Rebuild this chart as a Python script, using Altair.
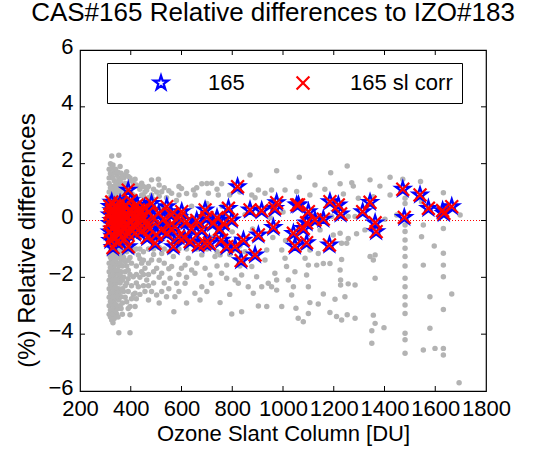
import altair as alt
import pandas as pd

# ---------------- data ----------------
x_ticks = [200, 400, 600, 800, 1000, 1200, 1400, 1600, 1800]
y_ticks = [-6, -4, -2, 0, 2, 4, 6]
inner_x_ticks = [400, 600, 800, 1000, 1200, 1400, 1600]
inner_y_ticks = [-4, -2, 0, 2, 4]

# grey points (all comparisons)
grey_x = [
    315, 315, 315, 315, 315, 315, 315, 315, 315, 315, 315, 315, 315, 315, 315, 315, 315, 315, 315,
    325, 325, 325, 325, 325, 325, 325, 325, 325, 325, 325, 325, 325, 325, 325, 325, 325,
    335, 335, 335, 335, 335, 335, 335, 335, 335, 335, 335, 335, 335, 335,
    345, 345, 345, 345, 345, 345, 345, 345, 345, 345, 345,
    353, 353, 353, 353, 353, 353, 353, 353, 353,
    362, 362, 362, 362, 362, 362, 362, 362,
    372, 372, 372, 372, 372,
    384, 384, 384, 384, 384, 384,
    397, 397, 397, 397, 397, 397, 397,
    410, 410, 410, 410, 410,
    417, 417, 417,
    430, 430, 430,
    443, 443, 443, 443,
    456, 456, 456,
    463, 463,
    482, 482, 482, 482,
    502, 502, 502,
    509,
    522, 522, 522, 522,
    541, 541, 555, 561, 561, 568, 574, 581, 570,
    600, 600, 614, 614, 627, 640, 647, 653, 653, 653, 673,
    680, 680, 680, 693, 706, 712, 719, 719, 732, 745, 752, 752, 758, 758,
    778, 778, 798, 804, 811, 824, 837, 837, 850, 863, 870, 877, 877, 883,
    896, 903, 903, 916, 929, 929, 936, 936, 942, 955, 955, 968, 975, 975, 975,
    995, 995, 1008, 1008, 1014, 1021,
    460, 520, 580, 640, 700, 760, 850, 950, 1000, 480, 560, 640, 720, 800, 880, 960, 1010,
    1253, 1188, 1064, 1126, 1225, 1271, 1277, 1343, 1382, 1422, 1472, 1542, 1632,
    1054, 1106, 1165, 1238, 1297, 1356, 1422, 1481, 1546, 1579, 1698,
    1192, 1257, 1284, 1402, 1448,
    1481, 1481, 1481, 1481, 1481, 1481, 1481, 1481, 1481, 1481, 1481, 1481, 1481, 1481, 1481,
    1553, 1546, 1553, 1579, 1579, 1553, 1596, 1599,
    1632, 1632, 1632, 1632, 1632, 1632, 1632, 1665, 1694,
    1363, 1356, 1363, 1356, 1363, 1350, 1350, 1398,
    1323, 1290, 1257, 1284, 1257, 1244, 1227, 1227, 1231, 1231, 1205, 1185, 1211, 1231, 1253, 1284,
    1159, 1139, 1106, 1100, 1080, 1060, 1051, 1041, 1047, 1034, 1100, 1093, 1100, 1087, 1133,
    1159, 1185, 1225, 1139, 1106, 1225, 1198, 1146, 1343, 1251,
    320, 320, 320, 320, 320, 320, 320, 320, 320, 320, 320, 320, 320, 320,
    330, 330, 330, 330, 330, 330, 330, 330, 330, 330, 330, 330, 330, 330,
    340, 340, 340, 340, 340, 340, 340, 340, 340, 340, 340, 340,
    350, 350, 350, 350, 350, 350, 350, 350, 350, 350,
    358, 358, 358, 358, 358, 358, 358, 358, 358,
    367, 367, 367, 367, 367, 367, 367, 367, 367,
    378, 378, 378, 378, 378, 378, 378, 378,
    390, 390, 390, 390, 390, 390, 390, 390,
    403, 403, 403, 403, 403, 403,
    422, 422, 422, 422, 422, 422, 422,
    436, 436, 436, 436, 436,
    450, 450, 450, 450, 450, 450,
    470, 470, 470, 470, 470, 470, 470,
    490, 490, 490, 490, 490, 490,
    512, 512, 512, 512, 512, 512,
    532, 532, 532, 532,
    550, 550, 550, 550,
    590, 590, 590, 590, 590,
    620, 620, 620, 620,
    660, 660, 660,
    700, 700, 700,
    740, 740, 740,
    790, 790, 790,
    830, 830, 830,
    890, 890,
]
grey_y = [
    1.8, 1.5, 1.3, 1.0, 0.8, 0.6, 0.3, 0.0, -0.3, -0.6, -0.9, -1.2, -1.5, -1.8, -2.1, -2.4, -2.7, -3.0, -3.3,
    2.27, 1.84, 1.6, 1.2, 0.9, 0.5, -0.2, -0.7, -1.1, -1.4, -1.7, -2.0, -2.3, -2.6, -2.9, -3.2, -3.5,
    1.7, 1.4, 1.1, 0.8, -0.5, -1.0, -1.3, -1.6, -1.9, -2.2, -2.5, -2.8, -3.1, -3.45,
    1.6, 1.35, 1.0, -1.05, -1.5, -1.85, -2.2, -2.45, -2.75, -3.0, -3.3,
    2.3, 1.5, 1.2, -1.2, -1.6, -2.0, -2.4, -2.8, -3.95,
    1.66, 1.3, 0.9, -1.0, -1.4, -1.8, -2.68, -3.1,
    1.5, 1.1, -1.3, -2.0, -2.5,
    1.72, 1.2, -1.1, -1.6, -2.2, -2.86,
    1.5, 1.0, -1.3, -1.9, -3.03, -3.32, -3.95,
    1.3, 0.9, -1.1, -1.98, -2.6,
    1.45, -2.56, -3.03,
    1.2, -1.21, -2.33,
    1.31, 0.9, -1.5, -1.8,
    1.0, -1.68, -2.5,
    1.07, -2.09,
    1.43, 0.9, -1.39, -2.5,
    1.0, -1.68, -2.62,
    1.45,
    1.01, -1.16, -1.86, -2.5,
    0.8, -2.68, -2.03, 0.96, -1.62, -1.27, -2.68, -2.21, -3.21,
    1.13, -1.68, -1.57, -2.21, -1.33, -1.74, 1.07, 0.9, -1.86, -2.56, -2.8,
    1.29, -1.21, -2.33, -1.68, 0.96, -1.92, 1.31, -2.21, -1.27, 0.9, -1.21, -2.89, 1.29, -1.86,
    -1.57, -2.03, -3.29, -1.04, -2.09, -2.21, -1.92, -3.21, -1.1, -2.33, 1.6, 0.9, -1.62, -2.56,
    -1.98, 1.07, -3.01, -2.33, 0.96, -1.39, -1.04, -3.03, -2.21, 1.07, -2.33, -1.86, 1.75, -2.09, -2.45,
    -1.04, -3.03, 1.07, -1.33, -1.62, -2.09,
    0.6, 0.5, 0.7, 0.5, 0.6, 0.5, 0.2, 0.1, 0.3, -0.6, -0.5, -0.7, -0.6, -0.4, -0.3, -0.6, -0.7,
    1.92, 1.68, 1.52, 1.25, 1.29, 1.33, 1.21, 1.43, 1.21, 1.52, 1.45, 1.37, 0.98,
    1.02, 0.9, 1.1, 0.93, 0.78, 0.84, 0.9, 0.78, 0.66, 0.49, 0.19,
    0.14, 0.14, 0.14, 0.04, 0.19,
    -0.16, -0.39, -0.69, -0.98, -1.27, -1.6, -2.03, -2.33, -2.68, -2.97, -3.27, -3.97, -4.2, -4.67, 0.6,
    -0.16, -0.57, -1.57, -2.68, -3.79, -4.56, -0.9, -4.5,
    -0.28, -1.15, -1.57, -1.98, -3.13, -4.5, -4.73, -2.59, -5.71,
    -1.21, -1.39, -2.03, -3.33, -3.62, -3.88, -4.32, -3.77,
    -0.33, -0.47, -0.63, -2.27, -2.23, -2.68, -2.09, -2.27, -1.37, -0.8, -2.77, -3.24, -3.38, -3.5, -3.32, -3.44,
    -2.59, -2.94, -2.89, -3.27, -3.56, -3.44, -3.09, -2.33, -1.8, -2.62, -2.33, -1.92, -1.57, -1.33, -1.57,
    -1.51, -1.51, -1.74, -1.16, -1.04, -0.45, -0.51, -0.33, -1.27, -0.8,
    2.0, 1.65, 1.15, 0.7, -0.45, -0.8, -1.3, -1.65, -1.95, -2.25, -2.55, -2.85, -3.15, -3.4,
    1.95, 1.5, 1.0, 0.6, -0.9, -1.2, -1.5, -1.8, -2.1, -2.4, -2.7, -3.0, -3.3, -3.6,
    1.8, 1.25, 0.9, -0.8, -1.15, -1.4, -1.75, -2.05, -2.35, -2.65, -2.95, -3.2,
    1.7, 1.1, 0.8, -0.95, -1.3, -1.75, -2.1, -2.6, -3.1, -3.4,
    1.9, 1.4, 1.0, -1.1, -1.5, -1.9, -2.2, -2.5, -3.0,
    1.55, 1.2, -0.95, -1.25, -1.6, -2.1, -2.4, -2.9, -3.3,
    1.6, 1.3, 0.95, -1.0, -1.45, -1.8, -2.3, -2.7,
    1.55, 1.1, -1.0, -1.4, -1.75, -2.05, -2.5, -3.1,
    1.4, 0.95, -1.0, -1.5, -2.3, -2.75,
    1.25, 0.8, -1.0, -1.6, -1.9, -2.2, -2.75,
    1.1, -1.0, -1.35, -2.0, -2.6,
    1.2, 0.85, -1.1, -1.4, -1.9, -2.3,
    1.2, 0.8, -1.0, -1.5, -1.9, -2.3, -2.8,
    1.1, 0.75, -1.0, -1.2, -1.8, -2.2,
    1.25, 0.85, -0.95, -1.4, -2.0, -2.9,
    1.15, -1.0, -1.5, -2.2,
    1.05, -1.1, -1.7, -2.4,
    1.2, 0.9, -1.0, -1.9, -2.5,
    0.95, -1.0, -2.0, -2.9,
    1.15, -1.0, -1.5,
    1.3, -1.0, -2.5,
    1.1, -1.1, -1.6,
    0.9, -1.2, -2.6,
    1.0, -0.9, -1.6,
    0.8, -1.2,
]

# CAS#165 points (stars) and stray-light corrected points (crosses)
s165_x = [
    318, 318, 318, 318, 320, 325, 325, 325, 327, 328, 330, 335, 335, 337, 338,
    342, 344, 345, 345, 350, 352, 352, 355, 358, 360, 362, 365, 368, 370, 372,
    375, 380, 382, 385, 388, 390, 392, 395, 398, 400, 405, 408, 412, 415, 420,
    425, 428, 435, 440, 445, 450, 455, 460, 465, 470, 475, 490, 500, 510, 530,
    550, 560, 590, 610, 640, 660, 700, 710, 740, 750, 765,
    390, 417, 430, 443, 469, 482, 496, 522, 542, 542, 568, 575, 588, 601, 620,
    634, 666, 680, 693, 693, 725, 758, 778, 785, 798, 811, 821, 835, 844, 870,
    890, 903, 916, 962, 968, 975,
    1041, 1047, 1054, 1061, 1080, 1093, 1093, 1100, 1126, 1159, 1183, 1185, 1218, 1227,
    1314, 1343, 1363, 1367, 1472, 1478, 1540, 1573, 1629, 1634, 1665,
]
s165_y = [
    0.5, 0.2, -0.1, -0.4, -0.7, 0.65, 0.35, 0.0, -0.3, -0.55, -0.95, 0.5, 0.15, -0.2, -0.6,
    0.3, -0.05, -0.35, -0.75, 0.45, 0.1, -0.25, -0.5, 0.6, 0.25, -0.1, -0.4, 0.4, 0.05, -0.25,
    -0.65, 0.55, 0.2, -0.15, -0.45, 1.07, 0.35, 0.0, -0.3, 0.7, 0.25, -0.15, 0.45, 0.05, -0.25,
    0.55, 0.15, -0.1, 0.35, -0.35, 0.1, 0.45, -0.05, -0.6, 0.3, -0.3, 0.1, -0.5, 0.25, 0.05,
    -0.2, 0.2, 0.1, -0.6, -0.3, 0.0, 0.1, -0.8, 0.1, -0.3, -0.1,
    -0.92, -0.45, 0.37, 0.14, -0.22, 0.6, -0.8, -0.33, 0.49, -0.45, -0.92, -0.22, -0.57, 0.31, -0.04,
    -0.74, -0.86, -0.33, 0.37, -0.8, -0.1, -0.69, -0.92, 0.43, 0.02, -0.92, 1.19, -1.41, -0.69, 0.37,
    -1.21, -0.51, 0.35, -0.24, 0.43, 0.63,
    -0.45, -0.9, 0.55, 0.55, -0.28, -0.08, -0.78, 0.31, 0.02, 0.05, -0.86, 0.66, 0.55, 0.23,
    0.31, 0.64, -0.08, -0.39, 1.1, 0.11, 0.9, 0.43, 0.35, 0.25, 0.49,
]
# the stray-light corrected values sit on top of the uncorrected ones
corr_x = list(s165_x)
corr_y = list(s165_y)

series_names = ["165", "165 sl corr"]

# ---------------- frames ----------------
grey_df = pd.DataFrame({"x": grey_x, "y": grey_y})
pts_df = pd.DataFrame({
    "x": s165_x + corr_x,
    "y": s165_y + corr_y,
    "series": [series_names[0]] * len(s165_x) + [series_names[1]] * len(corr_x),
})
xt_df = pd.DataFrame({"x": inner_x_ticks})
yt_df = pd.DataFrame({"y": inner_y_ticks})
zero_df = pd.DataFrame({"y": [0]})

FONT = "Liberation Sans"
W, H = 406, 341

STAR = ("M0,-1L0.2245,-0.309L0.9511,-0.309L0.3633,0.118L0.5878,0.809L0,0.382"
        "L-0.5878,0.809L-0.3633,0.118L-0.9511,-0.309L-0.2245,-0.309Z")
XMARK = "M-1,-1L1,1M-1,1L1,-1"

xscale = alt.Scale(domain=[200, 1800], nice=False, zero=False)
yscale = alt.Scale(domain=[-6, 6], nice=False, zero=False)

xaxis = alt.Axis(values=x_ticks, ticks=False, domain=False, grid=False, format="d",
                 labelFontSize=22, labelPadding=7, labelFlush=False, labelOverlap=False,
                 labelBound=False, labelColor="black", labelFont=FONT,
                 title="Ozone Slant Column [DU]", titleFontSize=22, titleFont=FONT,
                 titleFontWeight="normal", titleColor="black", titlePadding=4)
yaxis = alt.Axis(values=y_ticks, ticks=False, domain=False, grid=False, format="d",
                 labelFontSize=22, labelPadding=7, labelFlush=False, labelOverlap=False,
                 labelOffset=-4,
                 labelColor="black", labelFont=FONT,
                 title="(%) Relative differences", titleFontSize=24, titleFont=FONT,
                 titleFontWeight="normal", titleColor="black",
                 titleX=-46, titleY=190, titleBaseline="alphabetic", titleAngle=270)


def X(field="x"):
    return alt.X(f"{field}:Q", scale=xscale, axis=xaxis)


def Y(field="y"):
    return alt.Y(f"{field}:Q", scale=yscale, axis=yaxis)


grey = alt.Chart(grey_df).mark_circle(size=30, color="#b3b3b3", opacity=1).encode(
    x=X(), y=Y(),
)

zero_line = alt.Chart(zero_df).mark_rule(color="red", strokeWidth=1, strokeDash=[1, 2]).encode(
    y=Y()
)

pts = alt.Chart(pts_df).mark_point(filled=False, strokeWidth=2.2, opacity=1).encode(
    x=X(),
    y=Y(),
    color=alt.Color("series:N", scale=alt.Scale(domain=series_names, range=["#0000ff", "#ff0000"]),
                    legend=alt.Legend(title=None, orient="none", legendX=27, legendY=13,
                                      direction="horizontal",
                                      labelFontSize=22, labelFont=FONT, labelColor="black",
                                      symbolSize=190, symbolStrokeWidth=2.2, labelOffset=36,
                                      columnPadding=13, padding=9, symbolOffset=34,
                                      strokeColor="black", fillColor="white")),
    shape=alt.Shape("series:N", scale=alt.Scale(domain=series_names, range=[STAR, XMARK])),
    size=alt.Size("series:N", scale=alt.Scale(domain=series_names, range=[220, 165]), legend=None),
)

top_ticks = alt.Chart(xt_df).mark_rule(color="black", strokeWidth=1).encode(
    x=X(), y=alt.value(0), y2=alt.value(5))
bot_ticks = alt.Chart(xt_df).mark_rule(color="black", strokeWidth=1).encode(
    x=X(), y=alt.value(H - 5), y2=alt.value(H))
left_ticks = alt.Chart(yt_df).mark_rule(color="black", strokeWidth=1).encode(
    y=Y(), x=alt.value(0), x2=alt.value(5))
right_ticks = alt.Chart(yt_df).mark_rule(color="black", strokeWidth=1).encode(
    y=Y(), x=alt.value(W - 5), x2=alt.value(W))

chart = alt.layer(grey, zero_line, pts, top_ticks, bot_ticks, left_ticks, right_ticks).properties(
    width=W, height=H,
    background="white",
    title=alt.TitleParams("CAS#165 Relative differences to IZO#183", fontSize=26, font=FONT,
                          fontWeight="normal", color="black", anchor="middle",
                          baseline="alphabetic", offset=5, dy=17, dx=-10),
    autosize=alt.AutoSizeParams(type="none"),
    padding={"left": 80, "top": 50, "right": 55, "bottom": 70},
).configure_view(stroke="black", strokeWidth=1.2)

chart.save("out.html", embed_options={"renderer": "svg", "actions": False})
